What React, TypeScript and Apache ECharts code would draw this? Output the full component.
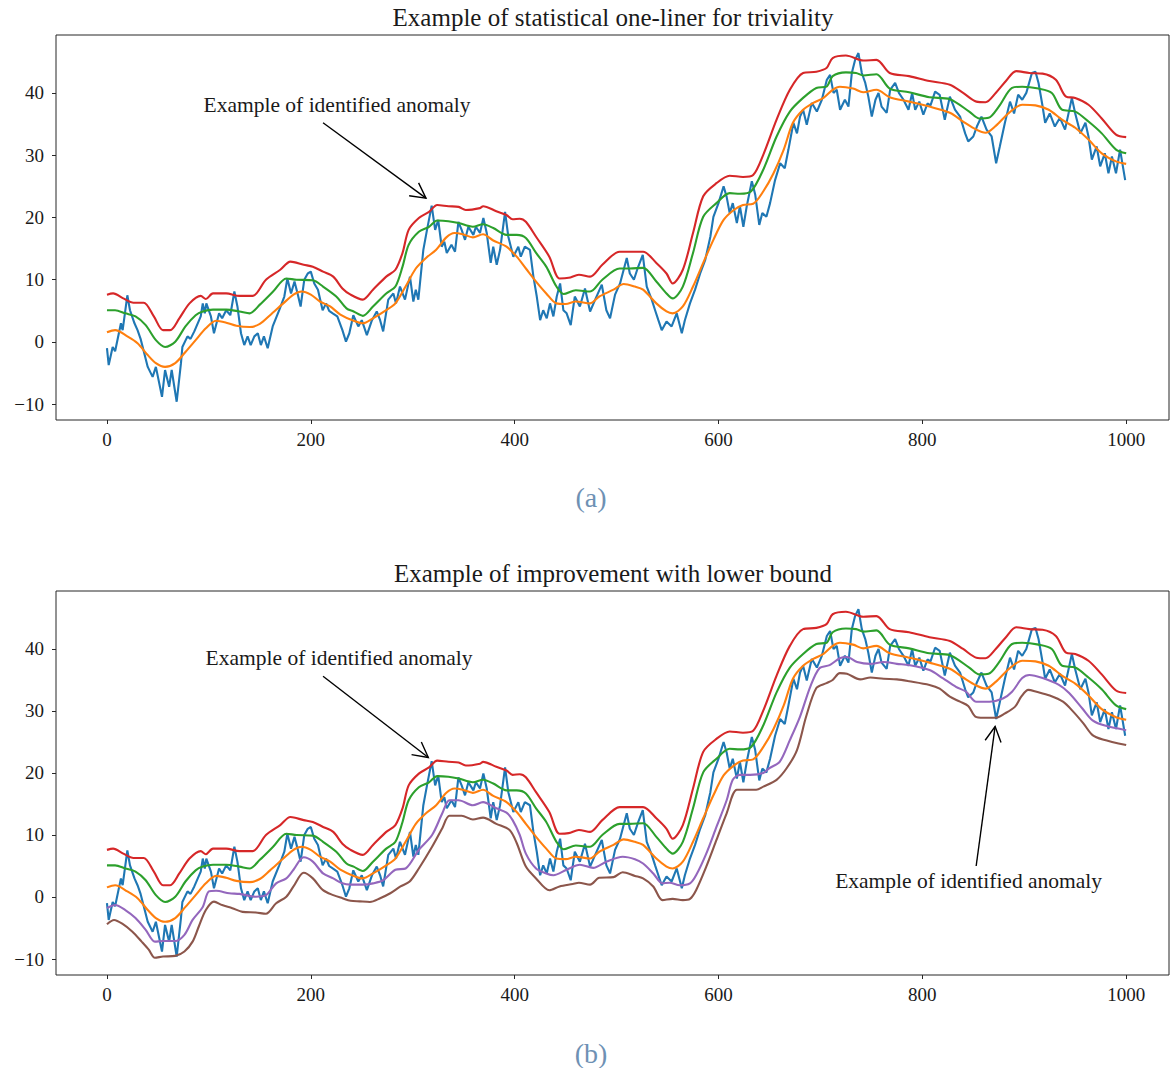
import React, { useEffect, useRef } from "react";
import * as echarts from "echarts";

// ---- data (x = sample index, y = value) ----
const blue: [number, number][] = [
  [0,-1.0],[1.7,-3.7],[5.6,-0.8],[8,-1.5],[13.7,3.0],[15.4,1.9],[20,7.5],[22.6,5.1],[27,3.0],[30,1.9],[33,0.5],[36.6,-1.8],[40,-4.0],[44.8,-5.6],[48,-4.0],[54,-8.8],[57,-4.5],[61,-7.2],[63.5,-4.5],[68.4,-9.6],[72.6,-3.4],[74,-0.8],[79,0.9],[82,0.5],[85.7,1.7],[92,4.1],[94,6.2],[96,4.6],[97.5,6.2],[102,4.1],[105,1.4],[110,4.6],[113,3.8],[117,5.1],[121,4.3],[125,8.1],[128,5.7],[131.5,1.4],[134.7,-0.5],[138,0.9],[141,-0.5],[144.6,0.9],[148,1.4],[151,-0.5],[154,0.9],[157.7,-1.0],[162.6,2.5],[169,5.1],[174,7.3],[177,10.2],[180.6,7.8],[184,9.7],[187,7.8],[190,5.7],[193.6,10.0],[197,11.0],[200,11.3],[203.4,9.4],[207,8.4],[211.6,5.1],[215,6.2],[218,5.0],[221.5,4.6],[226,4.1],[231,1.9],[234.5,0.05],[237.8,1.4],[241.7,4.3],[246.6,2.5],[250,3.5],[255,1.1],[260,3.5],[264.7,4.9],[268,3.5],[271,1.7],[276,6.8],[281,7.8],[283.6,6.2],[287.5,8.9],[292.4,6.8],[297.3,10.5],[300.6,6.5],[303,8.4],[305.5,6.8],[310.4,14.8],[314,18.0],[318.6,21.9],[322,18.0],[325,19.6],[328.4,15.3],[331,16.1],[333.4,14.3],[338,15.6],[341.5,14.5],[344.8,19.3],[348,18.0],[351.3,16.4],[354.6,18.5],[359.5,17.2],[362,18.5],[366,17.5],[369.3,19.9],[372.6,17.5],[376.5,12.7],[379,15.3],[382.4,12.4],[385.7,14.8],[390.6,20.9],[393.8,16.9],[398.7,13.7],[403.6,15.3],[406,13.7],[410,15.3],[415,14.8],[418.4,10.5],[421.7,7.3],[425,3.5],[428,5.1],[431.5,3.8],[434.7,6.2],[438,4.1],[441.3,7.3],[444.6,9.4],[447.8,5.1],[451,4.6],[455,2.7],[459,7.3],[464,5.7],[469,8.6],[474,4.9],[479,6.8],[485.5,9.2],[490,5.1],[493.6,3.8],[498.5,7.6],[503.4,9.4],[510,13.5],[513,11.0],[517,10.0],[521,12.0],[525.7,14.0],[529.6,8.9],[534.5,6.8],[537.8,5.1],[541,3.5],[544.3,1.9],[549,3.3],[554,2.5],[559,4.6],[564,1.4],[567,3.5],[572,6.2],[577,8.4],[582,11.0],[587,13.2],[592,16.9],[595,20.1],[600,22.3],[605,25.0],[608,23.3],[611,20.7],[614,22.3],[618,19.1],[621,21.8],[624.4,18.5],[627.7,21.8],[632.7,25.8],[636,23.7],[640,18.8],[643,20.7],[647,20.1],[650.6,22.3],[655.5,26.0],[660.5,28.7],[665,27.9],[668.6,30.9],[673.5,35.2],[677,33.5],[680,36.2],[683,37.3],[686.6,34.9],[691.5,38.4],[696.5,37.0],[701.4,38.9],[706.3,42.1],[709.5,42.9],[712.8,40.0],[716,40.5],[719.3,37.3],[724,38.9],[727.5,37.8],[730.8,43.2],[734,45.3],[737.3,46.4],[740.6,43.2],[744,41.6],[747,39.4],[750.4,36.2],[754,38.9],[757,40.0],[760,37.8],[765,36.8],[768.4,40.5],[773.3,41.6],[777,40.0],[781.5,38.9],[786.4,37.3],[790,40.0],[793,37.3],[797,38.6],[801,36.5],[805,38.3],[808,38.0],[812.5,40.2],[817,39.7],[822,35.7],[827,39.4],[832,37.3],[837,36.2],[842,33.5],[845,32.2],[850,33.0],[853.5,34.6],[858,36.2],[863,34.1],[868,33.0],[872.4,28.7],[876,31.4],[881,35.2],[886,38.6],[890,36.7],[894,39.7],[898,38.9],[902,40.0],[907.5,43.2],[911,43.4],[914,41.6],[917.5,38.3],[920.5,35.2],[925,36.7],[930,34.6],[935,36.0],[940,34.1],[946.7,39.2],[950,36.7],[955,33.5],[960,35.2],[963,33.0],[966.3,29.3],[971,31.4],[974.5,28.2],[979,30.3],[982.6,27.1],[986,29.8],[990,27.1],[994,30.9],[999,26.0],
];

const orange: [number, number][] = [
  [0,1.55],[8,1.9],[20,0.9],[30,-0.2],[40,-2.1],[48,-3.4],[57,-4.0],[67,-3.4],[77,-1.6],[87,0.3],[97,2.2],[107,3.4],[117,3.1],[127,2.6],[140,2.4],[150,2.9],[160,4.3],[173,6.2],[183,7.6],[191,8.1],[200,7.6],[209,6.5],[219,5.7],[229,4.4],[242,3.4],[251,3.0],[261,3.8],[274,5.1],[283,6.2],[293,8.9],[303,11.8],[313,13.5],[323,14.8],[333,16.8],[341,17.5],[349,17.3],[359,16.8],[369,17.3],[379,16.3],[392,15.3],[402,13.7],[411,11.8],[421,9.7],[431,7.8],[441,6.2],[450,6.1],[460,6.5],[474,6.2],[483,7.3],[497,8.4],[507,9.3],[518,8.9],[526,8.4],[539,6.2],[549,4.9],[555,4.6],[565,5.7],[575,8.9],[585,12.7],[595,16.4],[605,19.6],[615,21.2],[624,22.0],[634,22.2],[644,24.2],[654,27.1],[664,30.9],[673,35.2],[683,37.3],[693,38.4],[703,39.2],[712,40.5],[719,41.0],[732,40.7],[742,40.1],[755,40.5],[768,39.3],[787,38.6],[807,37.8],[827,36.8],[840,35.4],[853,34.1],[862,33.6],[872,34.7],[885,36.8],[898,38.1],[911,38.0],[924,37.3],[937,35.7],[950,34.4],[963,32.5],[976,30.3],[990,29.0],[1000,28.6],
];

const green: [number, number][] = [
  [0,5.1],[8,5.1],[18,4.6],[28,4.1],[38,2.7],[48,0.3],[57,-0.8],[67,0.05],[77,2.5],[87,4.3],[94,4.9],[104,5.2],[117,5.2],[130,4.9],[140,4.6],[150,6.0],[163,8.1],[176,10.2],[186,10.0],[202,9.9],[212,8.9],[225,7.3],[235,5.4],[242,4.9],[251,4.2],[261,5.7],[274,7.8],[283,8.9],[290,12.1],[296,15.6],[306,17.7],[316,18.5],[324,19.5],[335,19.4],[345,19.1],[359,18.5],[369,18.9],[379,18.3],[392,17.2],[402,17.2],[411,16.7],[421,14.3],[431,12.1],[441,8.9],[448,7.7],[460,8.3],[474,8.1],[486,10.0],[503,11.8],[513,11.8],[526,11.9],[539,9.7],[549,7.8],[555,7.0],[565,8.9],[575,14.3],[585,20.1],[598,22.3],[611,23.9],[621,23.8],[632,24.2],[644,27.7],[657,33.0],[670,37.0],[683,39.2],[696,40.8],[706,41.0],[712,42.7],[725,43.3],[735,43.2],[742,42.8],[755,43.0],[768,40.7],[787,40.1],[807,39.3],[827,39.0],[846,37.0],[856,35.9],[865,36.0],[875,37.8],[888,40.8],[898,41.0],[914,40.7],[927,40.0],[937,37.3],[950,37.0],[963,35.4],[976,33.5],[990,30.9],[1000,30.3],
];

const red: [number, number][] = [
  [0,7.6],[6,7.8],[16,7.0],[26,6.3],[36,6.3],[46,4.1],[55,1.9],[62,1.9],[71,3.8],[81,6.2],[92,7.4],[97,6.9],[104,7.8],[117,7.8],[130,7.4],[143,7.4],[156,10.0],[170,11.6],[180,12.9],[193,12.4],[202,12.1],[212,11.3],[222,10.5],[231,8.6],[239,7.6],[251,6.8],[261,8.4],[274,10.5],[283,11.6],[290,14.3],[296,18.0],[306,19.9],[316,20.9],[324,22.0],[335,21.8],[345,21.7],[352,21.2],[366,21.5],[369,21.8],[382,21.0],[392,20.4],[398,19.7],[405,19.8],[411,19.3],[421,16.9],[434,13.7],[444,10.2],[453,10.3],[463,10.8],[474,10.5],[486,12.4],[503,14.5],[513,14.5],[526,14.5],[539,12.7],[549,11.0],[555,9.4],[565,11.6],[575,17.5],[585,23.4],[598,25.5],[611,26.7],[624,26.5],[634,26.8],[644,30.1],[657,35.7],[670,40.5],[683,43.2],[696,43.4],[706,44.0],[712,45.6],[725,46.0],[742,45.2],[755,45.3],[768,43.2],[787,42.7],[807,41.9],[827,41.3],[840,40.0],[853,38.6],[862,38.5],[872,40.0],[882,41.9],[892,43.5],[905,43.2],[918,43.1],[931,42.1],[941,39.4],[950,39.2],[963,38.1],[976,35.9],[990,33.3],[1000,32.9],
];

const purple: [number, number][] = [
  [0,-1.8],[8,-1.3],[18,-2.1],[28,-3.4],[38,-5.3],[47,-7.2],[55,-7.1],[67,-7.1],[76,-6.1],[84,-3.7],[94,-1.6],[100,0.9],[107,1.0],[120,0.6],[130,0.5],[146,0.05],[156,0.3],[166,2.2],[176,3.0],[183,4.4],[193,6.4],[202,5.7],[212,3.8],[222,3.0],[231,2.2],[239,2.0],[251,2.0],[261,2.2],[271,2.7],[283,4.4],[293,4.6],[306,7.6],[319,10.0],[329,13.5],[336,15.6],[345,15.6],[359,14.8],[369,15.3],[382,14.3],[392,13.6],[398,12.4],[405,10.0],[411,7.0],[421,4.6],[431,3.8],[438,3.5],[451,4.4],[464,5.2],[477,4.7],[490,5.7],[506,6.5],[518,6.1],[526,5.4],[536,3.8],[545,2.2],[552,2.3],[562,1.9],[572,2.2],[578,3.5],[588,7.0],[598,11.3],[608,15.6],[614,18.9],[621,19.7],[631,19.7],[644,20.0],[650,20.8],[660,21.8],[670,25.3],[680,29.1],[690,33.9],[699,36.9],[709,37.4],[719,38.5],[726,38.7],[736,37.9],[749,37.6],[762,37.9],[775,37.6],[787,37.4],[807,36.6],[820,35.3],[833,33.9],[843,33.1],[853,31.5],[866,31.5],[879,32.0],[888,33.1],[898,35.3],[905,35.8],[918,35.3],[934,34.2],[944,32.9],[957,30.4],[967,28.5],[980,27.6],[1000,26.9],
];

const brown: [number, number][] = [
  [0,-4.4],[7,-3.7],[15,-4.3],[25,-5.6],[34,-7.2],[41,-8.5],[47,-9.8],[55,-9.6],[67,-9.5],[76,-8.8],[84,-7.2],[90,-4.8],[97,-2.1],[105,-0.75],[113,-1.3],[123,-1.8],[133,-2.4],[146,-2.5],[156,-2.7],[166,-1.0],[176,0.05],[183,1.7],[193,3.9],[202,3.0],[212,1.1],[222,0.3],[231,-0.2],[239,-0.6],[248,-0.7],[258,-0.8],[268,-0.2],[278,0.6],[288,1.7],[297,2.5],[306,4.6],[319,8.1],[329,11.1],[336,13.1],[348,13.1],[359,12.5],[369,12.8],[382,11.8],[395,10.8],[402,8.7],[411,4.9],[421,3.0],[434,1.1],[444,1.7],[457,2.1],[463,2.3],[474,2.0],[483,3.1],[497,3.2],[506,4.0],[518,3.4],[526,3.0],[536,1.7],[545,-0.5],[555,-0.3],[565,-0.5],[572,-0.3],[578,1.1],[588,4.9],[598,9.2],[608,13.5],[618,17.3],[628,17.3],[637,17.3],[644,17.8],[657,18.9],[667,20.8],[677,23.7],[686,29.1],[696,33.7],[706,34.5],[712,35.0],[719,36.1],[726,36.0],[739,35.1],[749,35.4],[762,35.2],[775,35.1],[787,34.8],[807,34.2],[817,33.6],[827,32.3],[837,31.5],[845,30.8],[852,29.1],[860,28.9],[872,28.9],[881,29.6],[891,30.7],[897,32.3],[904,33.4],[912,33.1],[925,32.5],[938,31.5],[948,29.9],[958,28.0],[967,26.1],[977,25.4],[1000,24.5],
];

const xTicks = [0, 200, 400, 600, 800, 1000];
const yTicks = [-10, 0, 10, 20, 30, 40];

const titles = ["Example of statistical one-liner for triviality", "Example of improvement with lower bound"];
const captions = ["(a)", "(b)"];
const annotationText = "Example of identified anomaly";
// [gridIndex, text centre, arrow start, arrow tip] in data coordinates
const annotations: { grid: number; text: [number, number]; from: [number, number]; to: [number, number] }[] = [
  { grid: 0, text: [225.7, 38.1], from: [212, 35.2], to: [313, 23.1] },
  { grid: 1, text: [227.7, 38.5], from: [212, 35.6], to: [315.3, 22.5] },
  { grid: 1, text: [845.4, 2.5], from: [852.8, 5.0], to: [871.4, 27.5] },
];

const C = {
  blue: "#1f77b4",
  orange: "#ff7f0e",
  green: "#2ca02c",
  red: "#d62728",
  purple: "#9467bd",
  brown: "#8c564b",
  axis: "#262626",
  text: "#1a1a1a",
  caption: "#6e91b4",
};
const FONT = '"Liberation Serif", "Times New Roman", serif';

function lineSeries(data: [number, number][], color: string, grid: number, smooth: boolean) {
  return {
    type: "line",
    xAxisIndex: grid,
    yAxisIndex: grid,
    data,
    showSymbol: false,
    symbol: "none",
    smooth: smooth ? 0.3 : false,
    lineStyle: { color, width: 2.1 },
    itemStyle: { color },
    silent: true,
  };
}

function xAxis(grid: number) {
  return {
    type: "value",
    gridIndex: grid,
    min: -50,
    max: 1042,
    axisLine: { show: false, onZero: false },
    axisTick: { show: true, length: 4, customValues: xTicks, lineStyle: { color: C.axis, width: 1 } },
    axisLabel: {
      customValues: xTicks,
      color: C.text,
      fontFamily: FONT,
      fontSize: 19,
      margin: 10,
      formatter: (v: number) => String(v),
    },
    splitLine: { show: false },
  };
}

function yAxis(grid: number, min: number, max: number) {
  return {
    type: "value",
    gridIndex: grid,
    min,
    max,
    axisLine: { show: false, onZero: false },
    axisTick: { show: true, length: 4, customValues: yTicks, lineStyle: { color: C.axis, width: 1 } },
    axisLabel: {
      customValues: yTicks,
      color: C.text,
      fontFamily: FONT,
      fontSize: 19,
      margin: 12,
      formatter: (v: number) => (v < 0 ? "\u2212" + Math.abs(v) : String(v)),
    },
    splitLine: { show: false },
  };
}

export default function App() {
  const ref = useRef<HTMLDivElement>(null);
  useEffect(() => {
    if (!ref.current) return;
    const chart = echarts.init(ref.current, undefined, { renderer: "svg" });
    chart.setOption({
      animation: false,
      backgroundColor: "#ffffff",
      grid: [
        { left: 56, top: 35, width: 1113, height: 385, show: true, borderColor: C.axis, borderWidth: 1, backgroundColor: "transparent" },
        { left: 56, top: 591, width: 1113, height: 384, show: true, borderColor: C.axis, borderWidth: 1, backgroundColor: "transparent" },
      ],
      xAxis: [xAxis(0), xAxis(1)],
      yAxis: [yAxis(0, -12.53, 49.3), yAxis(1, -12.58, 49.35)],
      series: [
        lineSeries(blue, C.blue, 0, false),
        lineSeries(orange, C.orange, 0, true),
        lineSeries(green, C.green, 0, true),
        lineSeries(red, C.red, 0, true),
        lineSeries(blue, C.blue, 1, false),
        lineSeries(orange, C.orange, 1, true),
        lineSeries(green, C.green, 1, true),
        lineSeries(red, C.red, 1, true),
        lineSeries(purple, C.purple, 1, true),
        lineSeries(brown, C.brown, 1, true),
      ],
    });

    const graphics: any[] = [];
    const titleY = [17.5, 573.5];
    titles.forEach((t, i) => {
      graphics.push({
        type: "text",
        x: 613,
        y: titleY[i],
        silent: true,
        style: { text: t, fill: C.text, font: `25px ${FONT}`, align: "center", verticalAlign: "middle" },
      });
    });
    const capY = [497, 1053];
    captions.forEach((t, i) => {
      graphics.push({
        type: "text",
        x: 591,
        y: capY[i],
        silent: true,
        style: { text: t, fill: C.caption, font: `28px ${FONT}`, align: "center", verticalAlign: "middle" },
      });
    });
    annotations.forEach((a) => {
      const tp = chart.convertToPixel({ gridIndex: a.grid }, a.text) as number[];
      const p0 = chart.convertToPixel({ gridIndex: a.grid }, a.from) as number[];
      const p1 = chart.convertToPixel({ gridIndex: a.grid }, a.to) as number[];
      graphics.push({
        type: "text",
        x: tp[0],
        y: tp[1],
        silent: true,
        style: { text: annotationText, fill: C.text, font: `21.5px ${FONT}`, align: "center", verticalAlign: "middle" },
      });
      const dx = p1[0] - p0[0];
      const dy = p1[1] - p0[1];
      const len = Math.sqrt(dx * dx + dy * dy);
      const ux = dx / len;
      const uy = dy / len;
      const px = -uy;
      const py = ux;
      const hl = 15;
      const hw = 8;
      graphics.push({
        type: "line",
        silent: true,
        shape: { x1: p0[0], y1: p0[1], x2: p1[0], y2: p1[1] },
        style: { stroke: "#000", lineWidth: 1.4 },
      });
      graphics.push({
        type: "polyline",
        silent: true,
        shape: {
          points: [
            [p1[0] - ux * hl + px * hw, p1[1] - uy * hl + py * hw],
            [p1[0], p1[1]],
            [p1[0] - ux * hl - px * hw, p1[1] - uy * hl - py * hw],
          ],
        },
        style: { stroke: "#000", lineWidth: 1.4, fill: "none" },
      });
    });
    chart.setOption({ graphic: graphics });

    return () => chart.dispose();
  }, []);
  return (
    <div
      ref={ref}
      style={{ position: "absolute", left: 0, top: 0, width: 1170, height: 1068, background: "#fff" }}
    />
  );
}
